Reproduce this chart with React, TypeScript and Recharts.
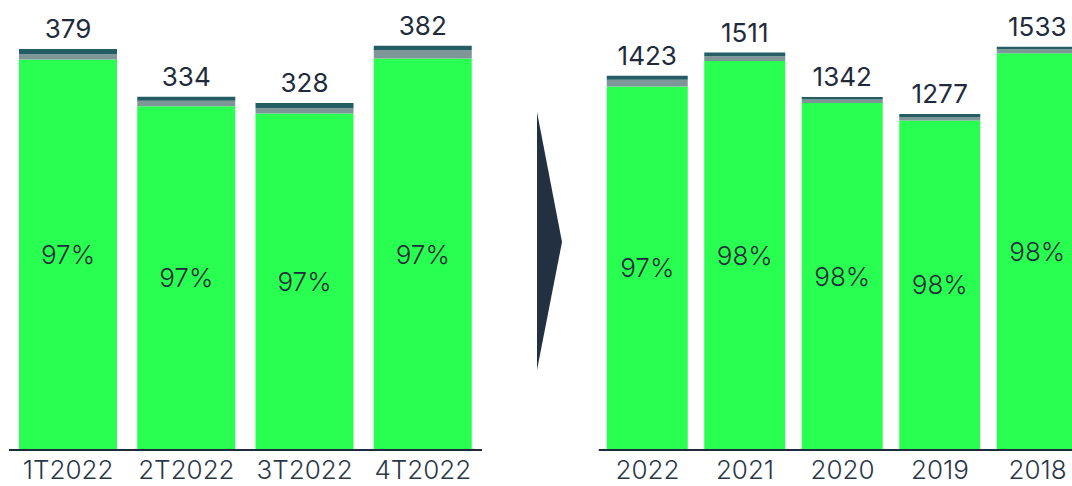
import React from 'react';
import { BarChart, Bar, XAxis, YAxis, LabelList } from 'recharts';

const quarterCategories = ['1T2022', '2T2022', '3T2022', '4T2022'];
const quarterMain = [369, 325, 318, 370];
const quarterMid = [5, 5, 5, 8];
const quarterTop = [5, 4, 5, 4];
const quarterTotals = [379, 334, 328, 382];
const quarterShares = ['97%', '97%', '97%', '97%'];

const yearCategories = ['2022', '2021', '2020', '2019', '2018'];
const yearMain = [1382, 1479, 1319, 1253, 1508];
const yearMid = [25, 18, 13, 13, 15];
const yearTop = [16, 14, 10, 11, 10];
const yearTotals = [1423, 1511, 1342, 1277, 1533];
const yearShares = ['97%', '98%', '98%', '98%', '98%'];

const GREEN = '#29ff50';
const GRAY = '#7e9697';
const DARK = '#245e64';
const TEXT = '#1f2b3b';
const FONT = 'Inter, "Noto Sans", sans-serif';

const quarterData = quarterCategories.map((name, i) => ({
  name,
  main: quarterMain[i],
  mid: quarterMid[i],
  top: quarterTop[i],
  total: quarterTotals[i],
  share: quarterShares[i],
}));

const yearData = yearCategories.map((name, i) => ({
  name,
  main: yearMain[i],
  mid: yearMid[i],
  top: yearTop[i],
  total: yearTotals[i],
  share: yearShares[i],
}));

const makeTick = (baselineY: number) => (props: any) => {
  const { x, payload } = props;
  return (
    <text
      x={x}
      y={baselineY}
      textAnchor="middle"
      fill="#2a3848"
      fontSize={26}
      fontFamily={FONT}
      fontWeight={300}
    >
      {payload.value}
    </text>
  );
};

function StackChart(props: {
  data: any[];
  width: number;
  height: number;
  margin: any;
  domainMax: number;
  barSize: number;
  tickBaseline: number;
}) {
  const { data, width, height, margin, domainMax, barSize, tickBaseline } = props;
  return (
    <BarChart width={width} height={height} data={data} margin={margin}>
      <XAxis
        dataKey="name"
        interval={0}
        height={36}
        tickLine={false}
        axisLine={{ stroke: TEXT, strokeWidth: 2 }}
        tick={makeTick(tickBaseline)}
      />
      <YAxis hide domain={[0, domainMax]} />
      <Bar dataKey="main" stackId="s" fill={GREEN} barSize={barSize} isAnimationActive={false}>
        <LabelList
          dataKey="share"
          position="center"
          fill={TEXT}
          fontSize={26}
          fontWeight={300}
          fontFamily={FONT}
        />
      </Bar>
      <Bar dataKey="mid" stackId="s" fill={GRAY} barSize={barSize} isAnimationActive={false} />
      <Bar dataKey="top" stackId="s" fill={DARK} barSize={barSize} isAnimationActive={false}>
        <LabelList
          dataKey="total"
          position="top"
          offset={11}
          fill={TEXT}
          fontSize={26}
          fontWeight={400}
          fontFamily={FONT}
        />
      </Bar>
    </BarChart>
  );
}

export default function App() {
  return (
    <div
      style={{
        position: 'fixed',
        left: 0,
        top: 0,
        width: 1072,
        height: 486,
        overflow: 'hidden',
        background: '#ffffff',
      }}
    >
      <div style={{ position: 'absolute', left: 0, top: 0 }}>
        <StackChart
          data={quarterData}
          width={490}
          height={486}
          margin={{ top: 26.8, right: 8, bottom: 0, left: 9 }}
          domainMax={400}
          barSize={98}
          tickBaseline={479}
        />
      </div>
      <svg
        style={{ position: 'absolute', left: 0, top: 0 }}
        width={1072}
        height={486}
        pointerEvents="none"
      >
        <polygon points="537,112 562,242 537,370" fill="#223041" />
      </svg>
      <div style={{ position: 'absolute', left: 580, top: 0 }}>
        <StackChart
          data={yearData}
          width={520}
          height={486}
          margin={{ top: 29.1, right: 13.75, bottom: 0, left: 18.75 }}
          domainMax={1600}
          barSize={81}
          tickBaseline={479}
        />
      </div>
    </div>
  );
}
